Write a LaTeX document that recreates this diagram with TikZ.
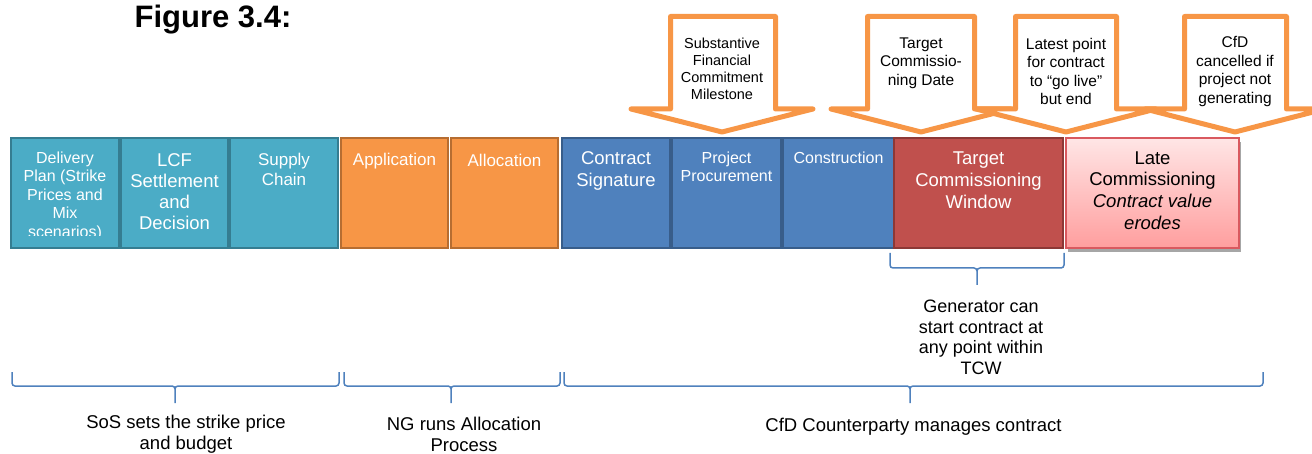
\documentclass[tikz,border=0pt]{standalone}
\usepackage{fontspec}
\setmainfont{Liberation Sans}
\usetikzlibrary{positioning,shadows}
\definecolor{tealfill}{HTML}{4BACC6}
\definecolor{tealline}{HTML}{357D91}
\definecolor{orangefill}{HTML}{F79646}
\definecolor{orangeline}{HTML}{B66D31}
\definecolor{bluefill}{HTML}{4F81BD}
\definecolor{blueline}{HTML}{385D8A}
\definecolor{redfill}{HTML}{C0504D}
\definecolor{redline}{HTML}{8C3836}
\definecolor{lateline}{HTML}{D9595F}
\newcommand\fsz[2]{\fontsize{#1}{#2}\selectfont}
\tikzset{
  stage/.style={draw, line width=1.5pt, minimum height=110pt, inner sep=0pt},
  tealstage/.style={stage, fill=tealfill, draw=tealline},
  orangestage/.style={stage, fill=orangefill, draw=orangeline},
  bluestage/.style={stage, fill=bluefill, draw=blueline},
  redstage/.style={stage, fill=redfill, draw=redline},
  stagetext/.style={text=white, align=center, inner sep=0pt},
  callout/.style={draw=orangefill, line width=5pt, fill=white, line join=round},
  callouttext/.style={align=center, inner sep=0pt},
  brc/.style={draw=bluefill, line width=1.5pt, rounded corners=3pt},
  note/.style={align=center, inner sep=0pt, font=\fsz{18.5}{21}}
}
\begin{document}
\begin{tikzpicture}[x=1pt,y=-1pt]
\clip (0,0) rectangle (1312,454);
\node[font=\bfseries\fsz{31}{36}, anchor=base] (title) at (213,28) {Figure 3.4:};

% stages
\node[tealstage, minimum width=108pt] (plan) at (65,193) {};
\node[tealstage, minimum width=107pt] (lcf) at (174.5,193) {};
\node[tealstage, minimum width=108pt] (supply) at (284,193) {};
\node[orangestage, minimum width=107pt] (appl) at (394.5,193) {};
\node[orangestage, minimum width=107pt] (alloc) at (504.5,193) {};
\node[bluestage, minimum width=108pt] (sign) at (616,193) {};
\node[bluestage, minimum width=109pt] (procure) at (726.5,193) {};
\node[bluestage, minimum width=111pt] (build) at (838.5,193) {};
\node[redstage, minimum width=169pt] (tcw) at (978.5,193) {};
\node[stage, minimum width=173pt, draw=lateline, top color=red!10, bottom color=red!38,
  drop shadow={shadow xshift=2pt, shadow yshift=-4pt, fill=black!35, opacity=1}] (late) at (1152.5,193) {};

\begin{scope}
\clip (11,138) rectangle (119,236);
\node[stagetext, font=\fsz{16}{18.5}, below=14pt of plan.north] (plantext)
  {Delivery\\Plan (Strike\\Prices and\\Mix\\scenarios)};
\end{scope}
\node[stagetext, font=\fsz{18.5}{21.2}, below=16pt of lcf.north] (lcftext) {LCF\\Settlement\\and\\Decision};
\node[stagetext, font=\fsz{17}{20}, below=16pt of supply.north] (supplytext) {Supply\\Chain};
\node[stagetext, font=\fsz{17}{20}, below=16pt of appl.north] (appltext) {Application};
\node[stagetext, font=\fsz{17}{20}, below=17pt of alloc.north] (alloctext) {Allocation};
\node[stagetext, font=\fsz{18.5}{22}, below=14pt of sign.north] (signtext) {Contract\\Signature};
\node[stagetext, font=\fsz{16}{18.5}, below=14pt of procure.north] (procuretext) {Project\\Procurement};
\node[stagetext, font=\fsz{16}{18.5}, below=14pt of build.north] (buildtext) {Construction};
\node[stagetext, font=\fsz{18.5}{22}, below=14pt of tcw.north] (tcwtext) {Target\\Commissioning\\Window};
\node[stagetext, text=black, font=\fsz{18.5}{21.7}, below=14pt of late.north] (latetext)
  {Late\\Commissioning\\\textit{Contract value}\\\textit{erodes}};

% milestones
\draw[callout] (670.5,16.5) -- (775.5,16.5) -- (775.5,109) -- (813,109) -- (722,132)
  -- (631,109) -- (670.5,109) -- cycle;
\node[callouttext, font=\fsz{14.5}{17}] (sfcm) at (722,68.5) {Substantive\\Financial\\Commitment\\Milestone};
\draw[callout] (867.5,16.5) -- (974.5,16.5) -- (974.5,109) -- (1011,109) -- (921,132)
  -- (831,109) -- (867.5,109) -- cycle;
\node[callouttext, font=\fsz{15.5}{18.5}] (tcd) at (921,63) {Target\\Commissio-\\ning Date};
\draw[callout] (1015.5,16.5) -- (1116.5,16.5) -- (1116.5,109) -- (1156,109) -- (1066,132)
  -- (976,109) -- (1015.5,109) -- cycle;
\node[callouttext, font=\fsz{15.5}{18.5}] (golive) at (1066,71.5) {Latest point\\for contract\\to “go live”\\but end};
\draw[callout] (1184.5,16.5) -- (1286.5,16.5) -- (1286.5,109) -- (1325,109) -- (1235,132)
  -- (1145,109) -- (1184.5,109) -- cycle;
\node[callouttext, font=\fsz{15.5}{18.5}] (cancel) at (1235,71.5) {CfD\\cancelled if\\project not\\generating};

% braces
\draw[brc] (890,253) -- (890,268) -- (977,268) -- (977,285) (1064,253) -- (1064,268) -- (977,268) -- (977,285);
\draw[brc] (12,372) -- (12,386) -- (175,386) -- (175,403) (339,372) -- (339,386) -- (175,386) -- (175,403);
\draw[brc] (344,372) -- (344,386) -- (451,386) -- (451,403) (560,372) -- (560,386) -- (451,386) -- (451,403);
\draw[brc] (564,372) -- (564,386) -- (910,386) -- (910,403) (1263,372) -- (1263,386) -- (910,386) -- (910,403);

\node[note, font=\fsz{18}{20.5}] (window) at (981,337.5) {Generator can\\start contract at\\any point within\\TCW};
\node[note] (sos) at (186,434.5) {SoS sets the strike price\\and budget};
\node[note] (ng) at (464,434.5) {NG runs Allocation\\Process};
\node[note] (cfd) at (913.5,427) {CfD Counterparty manages contract};
\end{tikzpicture}
\end{document}
